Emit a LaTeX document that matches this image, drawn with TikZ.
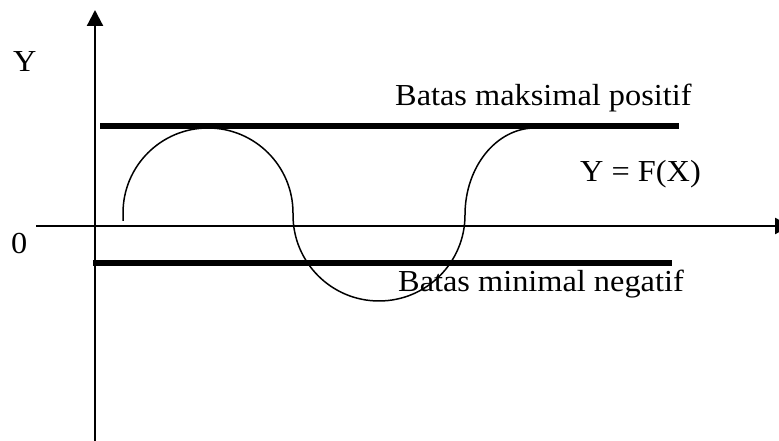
\documentclass[tikz,border=0pt]{standalone}
\usepackage{fontspec}
\setmainfont{Liberation Serif}[FakeStretch=1.06]
\usetikzlibrary{arrows.meta}
\begin{document}
\begin{tikzpicture}[x=1pt,y=1pt,
  axis/.style={line width=2.2pt,-{Triangle[length=16pt,width=16pt]}},
  bound/.style={line width=6pt},
  curve/.style={line width=1.5pt},
  lbl/.style={inner sep=0pt,anchor=base west,font=\fontsize{30.5}{36}\selectfont}]
\useasboundingbox (0,0) rectangle (779,441);
\fill[white] (0,0) rectangle (779,441);
% axes
\coordinate (yb) at (95,0);
\coordinate (yt) at (95,431);
\coordinate (xl) at (36,215);
\coordinate (xr) at (791,215);
\draw[axis] (yb) -- (yt);
\draw[axis] (xl) -- (xr);
% bounds
\coordinate (tl) at (100,315);
\coordinate (tr) at (679,315);
\coordinate (bl) at (93,178);
\coordinate (br) at (672,178);
\draw[bound] (tl) -- (tr);
\draw[bound] (bl) -- (br);
% curve
\coordinate (cs) at (123,220);
\draw[curve,line join=round] (cs) -- (123,228) arc[start angle=180,end angle=0,radius=85]
  -- (293,226) arc[start angle=180,end angle=360,radius=86]
  arc[start angle=180,end angle=90,x radius=70,y radius=87];
% labels
\node[lbl] (ly) at (13,369) {Y};
\node[lbl] (l0) at (11,187) {0};
\node[lbl] (lmax) at (395,335) {Batas maksimal positif};
\node[lbl] (lmin) at (398,149) {Batas minimal negatif};
\node[lbl] (lf) at (580,259) {Y = F(X)};
\end{tikzpicture}
\end{document}
